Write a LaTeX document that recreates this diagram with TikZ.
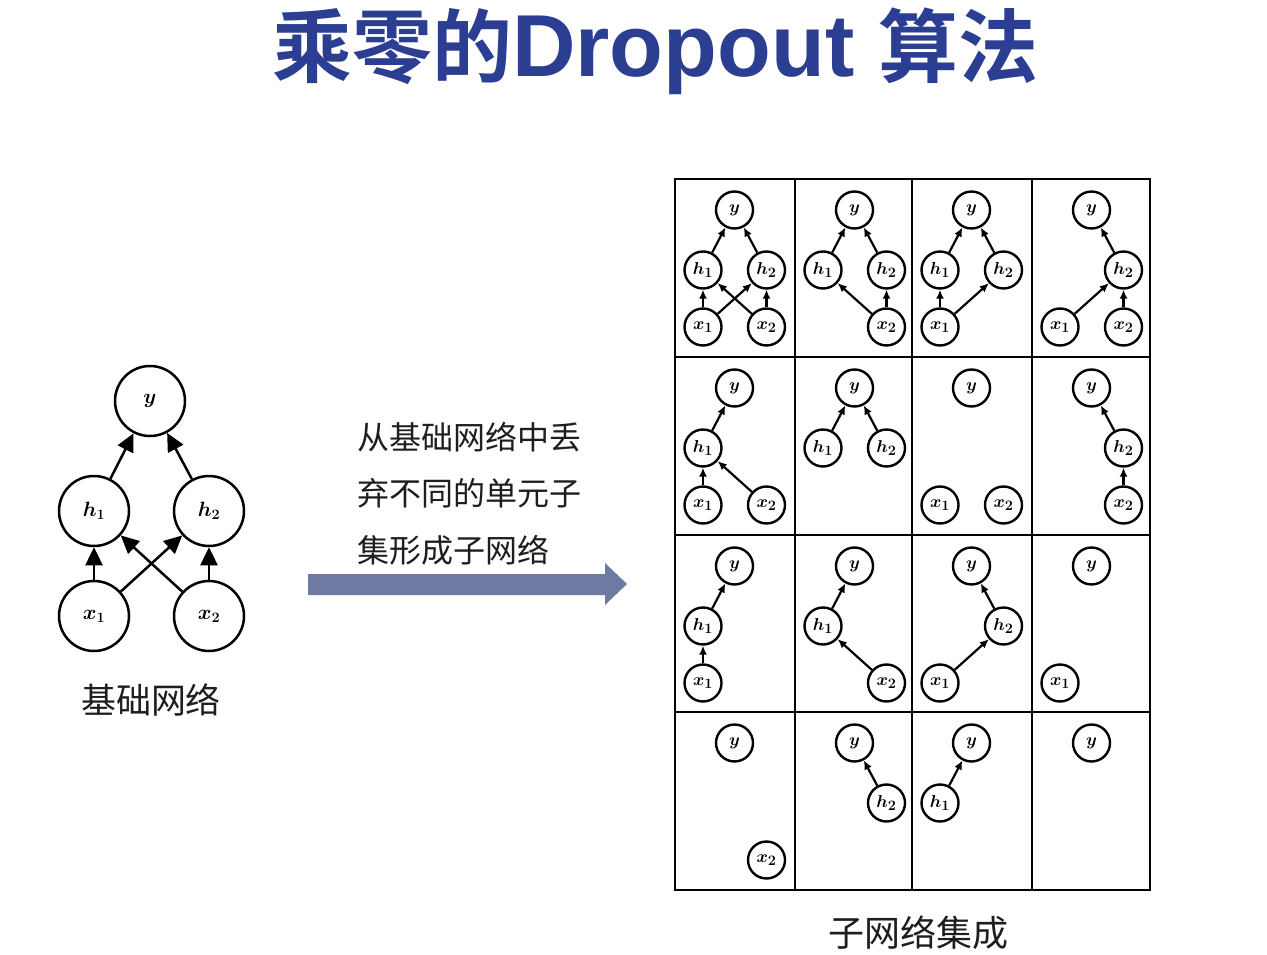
\documentclass[tikz,border=0pt]{standalone}
\usepackage{fontspec}
\usetikzlibrary{arrows.meta}
\newfontfamily\cjk{Noto Sans CJK SC}[BoldFont={Noto Sans CJK SC Bold}]
\newfontfamily\titlelatin{Liberation Sans}
\definecolor{titleblue}{RGB}{44,62,145}
\definecolor{arrowslate}{RGB}{110,122,162}
\definecolor{textgray}{RGB}{30,30,30}
% larger subscripts for the unit labels
\DeclareMathSizes{19}{19}{14}{11}
\DeclareMathSizes{20}{20}{15}{11}

\begin{document}
\begin{tikzpicture}[x=1pt,y=-1pt,
  bignode/.style={circle,draw,line width=2.5pt,minimum size=70pt,inner sep=0pt,
    font=\fontsize{20}{20}\selectfont\boldmath},
  gnode/.style={circle,draw,line width=2.4pt,minimum size=37pt,inner sep=0pt,
    font=\fontsize{19}{19}\selectfont\boldmath},
  bigedge/.style={-{Triangle[length=18pt,width=17pt]},line width=2.5pt},
  gedge/.style={-{Latex[length=9pt,width=8pt]},line width=2.2pt},
  gridline/.style={line width=2.2pt},
  cjktext/.style={text=textgray,inner sep=0pt}
]
\useasboundingbox (0,0) rectangle (1267,955);
\fill[white] (0,0) rectangle (1267,955);

% title
\node[anchor=base west,inner sep=0pt,text=titleblue] (title) at (272,77)
  {\cjk\bfseries\fontsize{80}{80}\selectfont 乘零的{\titlelatin\fontsize{88}{88}\selectfont Dropout}\hspace{0.3em}算法};

% base network
\node[bignode] (y)  at (150,401) {$y$};
\node[bignode] (h1) at (94,511)  {$h_1$};
\node[bignode] (h2) at (209,511) {$h_2$};
\node[bignode] (x1) at (94,616)  {$x_1$};
\node[bignode] (x2) at (209,616) {$x_2$};
\draw[bigedge] (x1) -- (h1);
\draw[bigedge] (x1) -- (h2);
\draw[bigedge] (x2) -- (h1);
\draw[bigedge] (x2) -- (h2);
\draw[bigedge] (h1) -- (y);
\draw[bigedge] (h2) -- (y);
\node[cjktext,font=\cjk\fontsize{35}{35}\selectfont] (baselbl) at (151,700) {基础网络};

% explanation and arrow
\node[cjktext,anchor=west,font=\cjk\fontsize{32}{32}\selectfont] (line1) at (357,437) {从基础网络中丢};
\node[cjktext,anchor=west,font=\cjk\fontsize{32}{32}\selectfont] (line2) at (357,493) {弃不同的单元子};
\node[cjktext,anchor=west,font=\cjk\fontsize{32}{32}\selectfont] (line3) at (357,550) {集形成子网络};
\fill[arrowslate] (308,574) -- (605,574) -- (605,563) -- (627,584) -- (605,605)
  -- (605,595) -- (308,595) -- cycle;

% grid of sub-networks
\draw[gridline] (675,179) rectangle (1150,890);
\foreach \gx in {795,912,1032} \draw[gridline] (\gx,179) -- (\gx,890);
\foreach \gy in {357,535,712} \draw[gridline] (675,\gy) -- (1150,\gy);

\foreach \rc/\X/\Y/\nodes in {
  11/675/179/{y/y,h1/h_1,h2/h_2,x1/x_1,x2/x_2},
  12/795/179/{y/y,h1/h_1,h2/h_2,x2/x_2},
  13/912/179/{y/y,h1/h_1,h2/h_2,x1/x_1},
  14/1032/179/{y/y,h2/h_2,x1/x_1,x2/x_2},
  21/675/357/{y/y,h1/h_1,x1/x_1,x2/x_2},
  22/795/357/{y/y,h1/h_1,h2/h_2},
  23/912/357/{y/y,x1/x_1,x2/x_2},
  24/1032/357/{y/y,h2/h_2,x2/x_2},
  31/675/535/{y/y,h1/h_1,x1/x_1},
  32/795/535/{y/y,h1/h_1,x2/x_2},
  33/912/535/{y/y,h2/h_2,x1/x_1},
  34/1032/535/{y/y,x1/x_1},
  41/675/712/{y/y,x2/x_2},
  42/795/712/{y/y,h2/h_2},
  43/912/712/{y/y,h1/h_1},
  44/1032/712/{y/y}}{
  \coordinate (p\rc-y)  at (\X+59.5,\Y+31);
  \coordinate (p\rc-h1) at (\X+28,\Y+91);
  \coordinate (p\rc-h2) at (\X+91.5,\Y+91);
  \coordinate (p\rc-x1) at (\X+28,\Y+148);
  \coordinate (p\rc-x2) at (\X+91.5,\Y+148);
  \foreach \n/\t in \nodes {\node[gnode] (c\rc-\n) at (p\rc-\n) {$\t$};}
}

\foreach \rc/\edges in {
  11/{h1/y,h2/y,x1/h1,x1/h2,x2/h1,x2/h2},
  12/{h1/y,h2/y,x2/h1,x2/h2},
  13/{h1/y,h2/y,x1/h1,x1/h2},
  14/{h2/y,x1/h2,x2/h2},
  21/{h1/y,x1/h1,x2/h1},
  22/{h1/y,h2/y},
  24/{h2/y,x2/h2},
  31/{h1/y,x1/h1},
  32/{h1/y,x2/h1},
  33/{h2/y,x1/h2},
  42/{h2/y},
  43/{h1/y}}{
  \foreach \a/\b in \edges {\draw[gedge] (c\rc-\a) -- (c\rc-\b);}
}

\node[cjktext,font=\cjk\fontsize{36}{36}\selectfont] (gridlbl) at (918,933) {子网络集成};
\end{tikzpicture}
\end{document}
